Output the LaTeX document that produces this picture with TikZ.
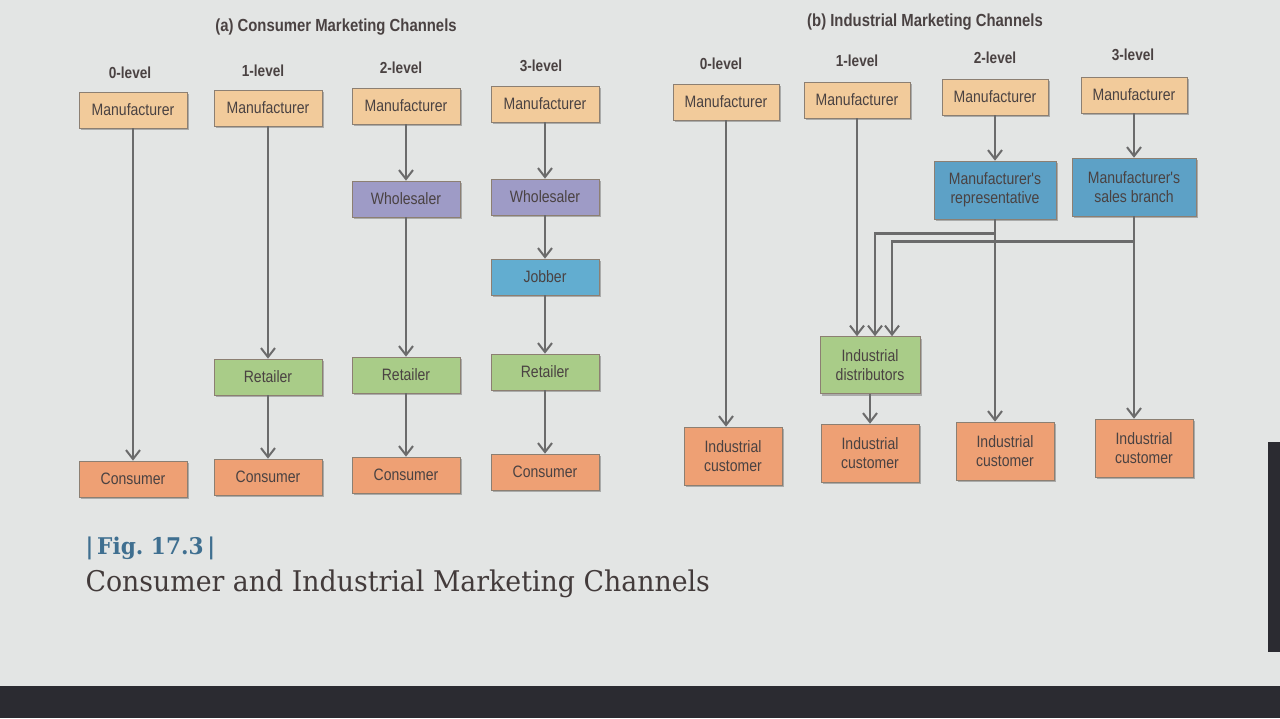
\documentclass[tikz,border=0pt]{standalone}
\usepackage{fontspec}
\setmainfont{Liberation Sans}
\newfontfamily\narrowfont{Liberation Sans}[FakeStretch=0.85]
\newfontfamily\slabfont{DejaVu Serif}[FakeStretch=0.94]
\usetikzlibrary{arrows.meta,calc,shadows}
\definecolor{screengrey}{HTML}{E3E5E4}
\definecolor{taskbar}{HTML}{2B2B31}
\definecolor{boxedge}{HTML}{8C7F72}
\definecolor{labelgrey}{HTML}{4A4242}
\definecolor{linegrey}{HTML}{6B6B6B}
\definecolor{mfrtan}{HTML}{F2CB9B}
\definecolor{wholelilac}{HTML}{9E9BC6}
\definecolor{jobberblue}{HTML}{62ADD0}
\definecolor{retailgreen}{HTML}{A9CC88}
\definecolor{consumerorange}{HTML}{EEA074}
\definecolor{agentblue}{HTML}{5DA1C6}
\definecolor{figblue}{HTML}{3F6F90}

\begin{document}
\begin{tikzpicture}[x=1pt,y=-1pt,
  chan/.style={draw=boxedge,line width=0.6pt,minimum width=108pt,minimum height=36pt,
    inner sep=2pt,align=center,text=labelgrey,font=\narrowfont\fontsize{16.5}{19}\selectfont,
    drop shadow={shadow xshift=2pt,shadow yshift=-2pt,opacity=0.25,fill=black}},
  mfr/.style={chan,fill=mfrtan},
  whole/.style={chan,fill=wholelilac},
  jobb/.style={chan,fill=jobberblue},
  retl/.style={chan,fill=retailgreen},
  cons/.style={chan,fill=consumerorange},
  agent/.style={chan,fill=agentblue,minimum width=122pt,minimum height=58pt},
  dist/.style={chan,fill=retailgreen,minimum width=100pt,minimum height=57pt},
  cust/.style={chan,fill=consumerorange,minimum width=98pt,minimum height=58pt},
  lvl/.style={text=labelgrey,font=\narrowfont\bfseries\fontsize{16}{19}\selectfont},
  heading/.style={text=labelgrey,font=\narrowfont\bfseries\fontsize{17.5}{20}\selectfont},
  flow/.style={draw=linegrey,line width=2.4pt,-{Straight Barb[length=9pt,width=14pt,line width=2pt]}}]
  % Screen and taskbar
  \fill[screengrey] (0,0) rectangle (1280,718);
  \fill[taskbar] (0,686) rectangle (1280,718);
  \fill[taskbar] (1268,442) rectangle (1280,652);
  \useasboundingbox (0,0) rectangle (1280,718);

  % (a) Consumer channels
  \node[heading] (ctitle) at (336,27) {(a) Consumer Marketing Channels};
  \node[lvl] (cl0) at (130,73) {0-level};
  \node[lvl] (cl1) at (263,71) {1-level};
  \node[lvl] (cl2) at (401,68) {2-level};
  \node[lvl] (cl3) at (541,66) {3-level};
  \node[mfr] (cm0) at (133,110) {Manufacturer};
  \node[mfr] (cm1) at (268,108) {Manufacturer};
  \node[mfr] (cm2) at (406,106) {Manufacturer};
  \node[mfr] (cm3) at (545,104) {Manufacturer};
  \node[whole] (cw2) at (406,199) {Wholesaler};
  \node[whole] (cw3) at (545,197) {Wholesaler};
  \node[jobb] (cj3) at (545,277) {Jobber};
  \node[retl] (cr1) at (268,377) {Retailer};
  \node[retl] (cr2) at (406,375) {Retailer};
  \node[retl] (cr3) at (545,372) {Retailer};
  \node[cons] (cc0) at (133,479) {Consumer};
  \node[cons] (cc1) at (268,477) {Consumer};
  \node[cons] (cc2) at (406,475) {Consumer};
  \node[cons] (cc3) at (545,472) {Consumer};
  \draw[flow] (cm0) -- (cc0);
  \draw[flow] (cm1) -- (cr1);
  \draw[flow] (cr1) -- (cc1);
  \draw[flow] (cm2) -- (cw2);
  \draw[flow] (cw2) -- (cr2);
  \draw[flow] (cr2) -- (cc2);
  \draw[flow] (cm3) -- (cw3);
  \draw[flow] (cw3) -- (cj3);
  \draw[flow] (cj3) -- (cr3);
  \draw[flow] (cr3) -- (cc3);

  % (b) Industrial channels
  \node[heading] (ititle) at (925,22) {(b) Industrial Marketing Channels};
  \node[lvl] (il0) at (721,64) {0-level};
  \node[lvl] (il1) at (857,61) {1-level};
  \node[lvl] (il2) at (995,58) {2-level};
  \node[lvl] (il3) at (1133,55) {3-level};
  \node[mfr,minimum width=106pt] (im0) at (726,102) {Manufacturer};
  \node[mfr,minimum width=106pt] (im1) at (857,100) {Manufacturer};
  \node[mfr,minimum width=106pt] (im2) at (995,97) {Manufacturer};
  \node[mfr,minimum width=106pt] (im3) at (1134,95) {Manufacturer};
  \node[agent] (irep) at (995,190) {Manufacturer's\\representative};
  \node[agent,minimum width=124pt] (ibranch) at (1134,187) {Manufacturer's\\sales branch};
  \node[dist] (idist) at (870,365) {Industrial\\distributors};
  \node[cust] (ic0) at (733,456) {Industrial\\customer};
  \node[cust] (ic1) at (870,453) {Industrial\\customer};
  \node[cust] (ic2) at (1005,451) {Industrial\\customer};
  \node[cust] (ic3) at (1144,448) {Industrial\\customer};
  \coordinate (repjoin) at ($(irep.south)+(0,14)$);
  \coordinate (branchjoin) at ($(ibranch.south)+(0,25)$);
  \coordinate (distin2) at ($(idist.north)+(5,0)$);
  \coordinate (distin3) at ($(idist.north)+(22,0)$);
  \draw[flow] (im0) -- (im0 |- ic0.north);
  \draw[flow] (im1) -- (im1 |- idist.north);
  \draw[flow] (im2) -- (irep);
  \draw[flow] (im3) -- (ibranch);
  \draw[flow] (irep) -- (irep |- ic2.north);
  \draw[flow] (ibranch) -- (ibranch |- ic3.north);
  \draw[flow] (repjoin) -| (distin2);
  \draw[flow] (branchjoin) -| (distin3);
  \draw[flow] (idist) -- (ic1);

  % Caption
  \node[anchor=west,text=figblue,font=\slabfont\bfseries\fontsize{23}{27}\selectfont] (figno) at (82,548) {|\,Fig.\ 17.3\,|};
  \node[anchor=west,text=labelgrey!90!black,font=\slabfont\fontsize{28.5}{33}\selectfont] (figcap) at (82,584) {Consumer and Industrial Marketing Channels};
\end{tikzpicture}
\end{document}
